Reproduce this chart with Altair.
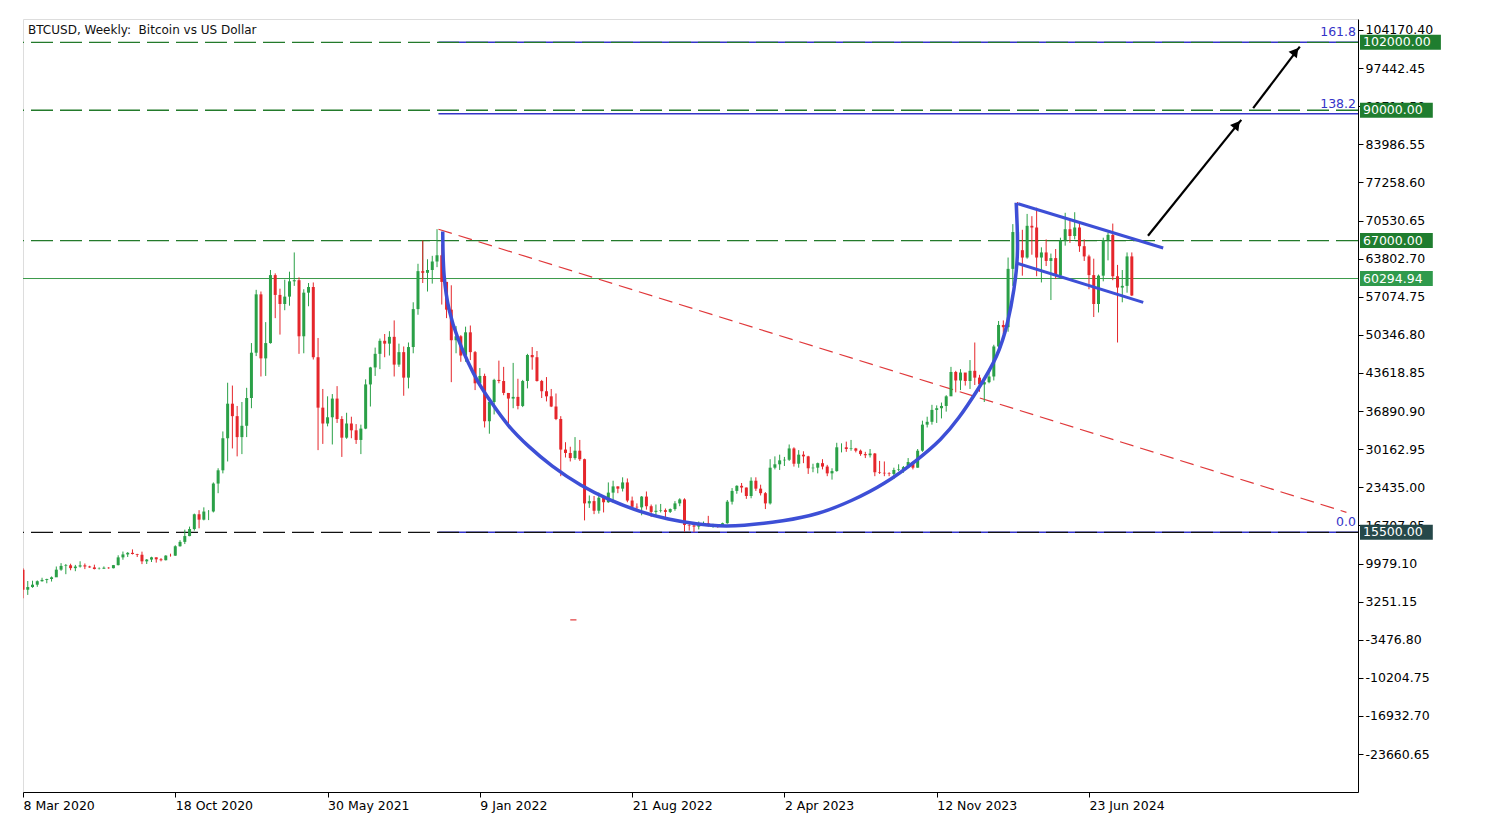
import altair as alt
import pandas as pd

# ---------------- data (weekly candles, first week starts 8 Mar 2020) ----------------
START = "2020-03-08"
first_open = 8900
closes = [
    5360, 5830, 6245, 6860, 7090, 7250, 7550, 8900, 9560, 9670,
    9170, 9450, 9660, 9460, 9300, 9010, 9070, 9240, 9160, 9700,
    11070, 11590, 11870, 11660, 11530, 10370, 10680, 11080, 10730, 10570,
    11380, 11370, 13030, 13800, 14830, 16070, 18680, 17730, 19160, 19170,
    24100, 26440, 32100, 38200, 36000, 32300, 34300, 39200, 47200, 57500,
    46200, 48900, 60900, 57400, 55800, 57100, 59800, 60000, 50100, 57800,
    58800, 46400, 37500, 34700, 35800, 39100, 35500, 32200, 34700, 33500,
    31800, 33800, 41600, 44600, 47000, 49300, 48800, 50000, 45100, 47300,
    42800, 48200, 54900, 61600, 61300, 61800, 63300, 64400, 59700, 54800,
    49400, 50100, 46700, 50800, 47300, 41800, 43100, 35100, 38500, 42400,
    42200, 40100, 39100, 39400, 37800, 42200, 46800, 46400, 42200, 40400,
    39500, 37700, 35500, 30100, 29500, 28600, 29900, 28400, 20600, 21000,
    19300, 21600, 20800, 22500, 23600, 23200, 24300, 21100, 20000, 19900,
    21800, 20100, 19100, 19300, 19400, 19100, 19600, 20600, 21300, 16800,
    16700, 16500, 17000, 17100, 16800, 16800, 16600, 17100, 20900, 22800,
    23700, 23400, 21900, 24600, 23200, 22400, 20600, 26900, 27500, 28200,
    28300, 30300, 27600, 29200, 28900, 26800, 26900, 27700, 27100, 25900,
    26300, 30500, 30500, 30200, 30300, 29900, 29300, 29100, 29400, 26100,
    26000, 25900, 25800, 26500, 26600, 27000, 27900, 26900, 29900, 34500,
    35000, 37100, 37400, 37800, 39500, 43800, 42300, 43700, 42200, 44000,
    42800, 41600, 42000, 43000, 48300, 52100, 51700, 62000, 68500, 65300,
    64000, 69600, 69300, 64000, 64900, 63400, 63900, 60800, 67000, 69000,
    67800, 69300, 66000, 64200, 60900, 55800, 60800, 67100, 68000, 60700,
    58700, 59000, 64200, 57300,
]
highs = [
    9150, 6900, 6950, 7000, 7470, 7300, 7700, 9460, 10050, 9900,
    9950, 9740, 10380, 9990, 9590, 9780, 9300, 9470, 9350, 9730,
    11440, 12100, 12000, 12480, 11700, 12080, 10780, 11180, 11060, 10940,
    11450, 11720, 13200, 14100, 15960, 16500, 18800, 19400, 19900, 19420,
    24300, 26800, 33300, 41900, 41400, 37800, 38500, 41000, 48900, 58300,
    58000, 52600, 61800, 61200, 58500, 60100, 61500, 64900, 60500, 58400,
    59500, 59600, 49800, 40800, 39500, 39900, 41300, 36000, 36600, 35900,
    34600, 34500, 42500, 44700, 48100, 49700, 50500, 51000, 52900, 48800,
    48300, 49000, 56100, 62900, 67000, 63700, 64300, 69000, 66300, 59500,
    59100, 51900, 50300, 51800, 52000, 47500, 44500, 43500, 38900, 42600,
    45800, 44700, 40000, 45400, 42600, 42400, 47000, 48200, 47500, 42400,
    42900, 40800, 40000, 36000, 31400, 30600, 32300, 31800, 28500, 22000,
    21900, 22500, 21600, 24300, 24600, 23600, 25200, 25000, 21800, 20600,
    21900, 22700, 20400, 20400, 20500, 19700, 19700, 21000, 21500, 21500,
    17200, 16800, 17400, 17400, 18400, 17000, 16900, 17200, 21200, 23300,
    23800, 24200, 23400, 25200, 25200, 23900, 22600, 28400, 28900, 29200,
    28800, 31000, 30500, 30000, 29800, 29000, 27600, 27800, 28400, 27400,
    26800, 31300, 31200, 31500, 31800, 30400, 30100, 29700, 30200, 29500,
    28100, 28000, 26100, 26900, 27500, 27200, 28600, 28000, 30200, 35200,
    35900, 38000, 37900, 38400, 39700, 44700, 44000, 44300, 43600, 45900,
    49000, 43300, 42200, 43900, 48600, 52800, 52900, 64000, 69900, 73800,
    68900, 71700, 71300, 72800, 65800, 67200, 64700, 65500, 67500, 71900,
    70600, 72000, 70200, 67200, 64500, 63800, 61000, 67500, 68400, 70000,
    62700, 61800, 64900, 64900,
]
lows = [
    3850, 4440, 5700, 5870, 6780, 6500, 6800, 7660, 8700, 8100,
    8800, 8630, 9270, 9000, 9220, 8950, 8940, 9060, 9050, 9120,
    9650, 10650, 11140, 11580, 11130, 9880, 9900, 10250, 10140, 10370,
    10530, 11200, 11340, 12970, 13420, 14800, 15800, 16200, 17600, 17650,
    19000, 22400, 25900, 28000, 30300, 28900, 29300, 32300, 37400, 46600,
    43000, 43100, 48800, 53300, 50400, 54700, 55500, 59000, 47000, 47100,
    55400, 46000, 30000, 31100, 34200, 31000, 34800, 28800, 32000, 32100,
    31100, 29300, 33700, 37700, 43100, 44300, 46400, 46700, 43000, 44700,
    39600, 40900, 47100, 53900, 59500, 58000, 59400, 62300, 55700, 53300,
    42000, 47100, 45600, 45600, 45900, 40600, 41300, 34000, 32900, 36300,
    41800, 39700, 34300, 37400, 37200, 37600, 40900, 44200, 42100, 39200,
    38600, 37600, 35300, 25400, 28700, 28000, 28300, 28100, 17600, 19800,
    18700, 18800, 19000, 20700, 20700, 22400, 22700, 20800, 19600, 19600,
    18500, 19500, 18200, 18500, 19000, 18200, 18900, 19300, 20100, 15600,
    15800, 15500, 16000, 16800, 16500, 16300, 16300, 16500, 17000, 20400,
    22300, 22500, 21400, 21500, 22800, 22000, 19600, 20400, 26600, 26500,
    27200, 28100, 27100, 26900, 27700, 25800, 26100, 25900, 26600, 25400,
    24800, 26200, 29600, 29700, 29900, 29600, 29000, 28600, 28700, 25400,
    25800, 25400, 25400, 24900, 26300, 26000, 26900, 26600, 26900, 29700,
    34000, 34500, 34800, 35600, 36800, 39600, 40200, 40600, 41400, 40800,
    41500, 40300, 38500, 41800, 42300, 47700, 50500, 50900, 59000, 64500,
    60800, 63800, 64500, 60700, 59600, 62500, 56500, 60200, 60600, 66100,
    66600, 67200, 65000, 63400, 58400, 53500, 54300, 59800, 63500, 60000,
    49000, 56100, 57800, 57200,
]

# horizontal levels
dashed_green_levels = [102000, 90000, 67000]
dashed_black_levels = [15500]
current_price = 60294.94

# Fibonacci levels (price, label) starting at week offset fib_start_week
fib_prices = [102000, 89383, 15500]
fib_labels = ["161.8", "138.2", "0.0"]
fib_start_week = 87.3

# right-axis price boxes
box_prices = [102000, 90000, 67000, 60294.94, 15500]
box_texts = ["102000.00", "90000.00", "67000.00", "60294.94", "15500.00"]

# y-axis ticks
y_ticks = [104170.40, 97442.45, 90714.50, 83986.55, 77258.60, 70530.65, 63802.70,
           57074.75, 50346.80, 43618.85, 36890.90, 30162.95, 23435.00, 16707.05,
           9979.10, 3251.15, -3476.80, -10204.75, -16932.70, -23660.65]

# cup arc (week offset, price)
arc_weeks = [88.2, 88.3, 89.5, 91.4, 93.5, 95.6, 98.4, 101.9, 106.1, 111.0,
             117.3, 122.9, 129.9, 135.5, 141.8, 146.0, 150.9, 160.0, 167.1, 174.1,
             181.0, 188.1, 193.0, 196.5, 200.7, 204.9, 207.0, 208.3, 209.1, 208.9, 208.7]
arc_prices = [68610, 60680, 54280, 49520, 45460, 41940, 38410, 34230, 30710, 27180,
              23650, 21310, 19020, 17780, 16900, 16600, 16600, 17480, 18660, 21010,
              23950, 28360, 31890, 35410, 40700, 46570, 52510, 58330, 64200, 70140, 73670]

# flag channel lines
chan_name = ["upper", "upper", "lower", "lower"]
chan_weeks = [209.1, 239.6, 208.7, 235.4]
chan_prices = [73494, 65684, 63039, 56093]

# red dashed trendline
trend_weeks = [87.3, 278.1]
trend_prices = [69000, 19020]

# arrows
arrow_name = ["a1", "a1", "a2", "a2"]
arrow_weeks = [236.4, 256.0, 258.5, 268.3]
arrow_prices = [67852, 88303, 90366, 101226]
head_weeks = [255.1, 267.4]
head_prices = [87456, 100375]

# small green bracket / segments at the 67000 / 60294 zone
seg_name = ["v", "v", "h", "h", "r", "r"]
seg_weeks = [84.0, 84.0, 84.0, 87.3, 208.8, 233.5]
seg_prices = [60294.94, 67000, 67000, 67000, 67000, 67000]

# stray red dash
stray_weeks = [115.0, 116.3]
stray_prices = [35, 35]

# x tick dates
x_tick_dates = [(2020, 3, 8), (2020, 10, 18), (2021, 5, 30), (2022, 1, 9),
                (2022, 8, 21), (2023, 4, 2), (2023, 11, 12), (2024, 6, 23)]

# ---------------- build ----------------
W, H = 1335, 773
GREEN = "#2aa047"
RED = "#e5262b"
DKGREEN = "#237a2b"
BLUE = "#3d4fd6"
FIBBLUE = "#3434c8"
FONT = "DejaVu Sans"

t0 = pd.Timestamp(START)


def wk(w):
    return t0 + pd.to_timedelta(w * 7, unit="D")


dates = pd.date_range(START, periods=len(closes), freq="7D")
opens = [first_open] + closes[:-1]
candles = pd.DataFrame({"date": dates, "open": opens, "high": highs,
                        "low": lows, "close": closes})
candles["dir"] = ["up" if c >= o else "down" for o, c in zip(opens, closes)]

x_scale = alt.Scale(domain=[alt.DateTime(year=2020, month=3, date=8),
                            alt.DateTime(year=2025, month=7, date=23, hours=17)],
                    padding=0, nice=False)
y_scale = alt.Scale(domain=[-30350, 106110], nice=False, zero=False, padding=0)

x_axis = alt.Axis(values=[alt.DateTime(year=y, month=m, date=d) for y, m, d in x_tick_dates],
                  format="%-d %b %Y", labelAlign="left", tickSize=5, labelPadding=2,
                  grid=False, title=None, domainColor="#000", tickColor="#000",
                  labelColor="#000", labelFont=FONT, labelFontSize=12.5, labelOverlap=False,
                  labelFlush=False)
y_axis = alt.Axis(orient="right", values=y_ticks,
                  labelExpr="replace(format(datum.value, '.2f'), '\u2212', '-')",
                  tickSize=5, labelPadding=2, grid=False, title=None,
                  domainColor="#000", tickColor="#000", labelColor="#000",
                  labelFont=FONT, labelFontSize=12.5, labelOverlap=False, labelFlush=False)


def X(f):
    return alt.X(f, type="temporal", scale=x_scale, axis=x_axis)


def Y(f):
    return alt.Y(f, type="quantitative", scale=y_scale, axis=y_axis)


color = alt.Color("dir:N", scale=alt.Scale(domain=["up", "down"], range=[GREEN, RED]), legend=None)

base = alt.Chart(candles)
wicks = base.mark_rule(strokeWidth=1, clip=True).encode(x=X("date"), y=Y("low"), y2="high", color=color)
bodies = base.mark_bar(size=3, clip=True).encode(x=X("date"), y=Y("open"), y2="close", color=color)

lv_green = alt.Chart(pd.DataFrame({"price": dashed_green_levels})).mark_rule(
    color=DKGREEN, strokeDash=[22, 7], strokeWidth=1.3).encode(y=Y("price"))
lv_black = alt.Chart(pd.DataFrame({"price": dashed_black_levels})).mark_rule(
    color="#111", strokeDash=[22, 7], strokeWidth=1.3).encode(y=Y("price"))
lv_cur = alt.Chart(pd.DataFrame({"price": [current_price]})).mark_rule(
    color="#3a9a4a", strokeWidth=1).encode(y=Y("price"))

fib_df = pd.DataFrame({"price": fib_prices, "label": fib_labels,
                       "start": [wk(fib_start_week)] * len(fib_prices),
                       "end": [wk(281)] * len(fib_prices)})
fib_lines = alt.Chart(fib_df).mark_rule(color=FIBBLUE, strokeWidth=1.6, clip=True).encode(
    x=X("start"), x2="end", y=Y("price"))
fib_text = alt.Chart(fib_df).mark_text(align="right", baseline="alphabetic", dy=-6,
                                       font=FONT, fontSize=12.5, color=FIBBLUE).encode(
    x=alt.value(W - 2), y=Y("price"), text="label:N")

trend_df = pd.DataFrame({"date": [wk(w) for w in trend_weeks], "price": trend_prices})
trend = alt.Chart(trend_df).mark_line(color="#e0383a", strokeDash=[14, 7], strokeWidth=1.2,
                                      clip=True).encode(x=X("date"), y=Y("price"))

seg_df = pd.DataFrame({"name": seg_name, "date": [wk(w) for w in seg_weeks], "price": seg_prices})
segs = alt.Chart(seg_df).mark_line(color=DKGREEN, strokeWidth=1, clip=True).encode(
    x=X("date"), y=Y("price"), detail="name:N")

stray_df = pd.DataFrame({"date": [wk(w) for w in stray_weeks], "price": stray_prices})
stray = alt.Chart(stray_df).mark_line(color="#e0383a", strokeWidth=1.2).encode(x=X("date"), y=Y("price"))

arc_df = pd.DataFrame({"i": list(range(len(arc_weeks))), "date": [wk(w) for w in arc_weeks],
                       "price": arc_prices})
arc = alt.Chart(arc_df).mark_line(color=BLUE, strokeWidth=3.5, interpolate="basis", clip=True).encode(
    x=X("date"), y=Y("price"), order="i:Q")

chan_df = pd.DataFrame({"name": chan_name, "date": [wk(w) for w in chan_weeks], "price": chan_prices})
chan = alt.Chart(chan_df).mark_line(color=BLUE, strokeWidth=3, clip=True).encode(
    x=X("date"), y=Y("price"), detail="name:N")

arrow_df = pd.DataFrame({"name": arrow_name, "date": [wk(w) for w in arrow_weeks], "price": arrow_prices})
arrows = alt.Chart(arrow_df).mark_line(color="#000", strokeWidth=2.2).encode(
    x=X("date"), y=Y("price"), detail="name:N")
head_df = pd.DataFrame({"date": [wk(w) for w in head_weeks], "price": head_prices})
heads = alt.Chart(head_df).mark_point(shape="triangle-up", filled=True, color="#000", opacity=1,
                                      size=110, angle=38).encode(x=X("date"), y=Y("price"))

title = alt.Chart(pd.DataFrame({"t": ["BTCUSD, Weekly: \u00a0Bitcoin vs US Dollar"]})).mark_text(
    align="left", baseline="middle", font=FONT, fontSize=12, color="#111").encode(
    x=alt.value(5), y=alt.value(11), text="t:N")

box_layers = []
box_style = {"60294.94": "#2f9a4c", "15500.00": "#26484a"}
for p, t in zip(box_prices, box_texts):
    bw = 8 + 8.1 * len(t)
    df = pd.DataFrame({"price": [p], "top": [p + 1330], "bot": [p - 1330], "t": [t]})
    fill = box_style.get(t, "#1f7d2f")
    box_layers.append(alt.Chart(df).mark_rect(color=fill, clip=False).encode(
        x=alt.value(W + 2), x2=alt.value(W + 2 + bw), y=Y("top"), y2="bot"))
    box_layers.append(alt.Chart(df).mark_text(align="left", baseline="middle", font=FONT,
                                              fontSize=12.5, color="#fff").encode(
        x=alt.value(W + 5), y=Y("price"), text="t:N"))

chart = alt.layer(
    fib_lines, lv_cur, lv_green, lv_black, segs, trend, stray,
    wicks, bodies, arc, chan, arrows, heads, fib_text, title, *box_layers
).properties(
    width=W, height=H, padding={"left": 14, "top": 11, "right": 5, "bottom": 5}
).configure_view(stroke="#000", strokeWidth=1).configure(background="#fff")

chart.save("out.html", embed_options={"renderer": "svg", "actions": False})
